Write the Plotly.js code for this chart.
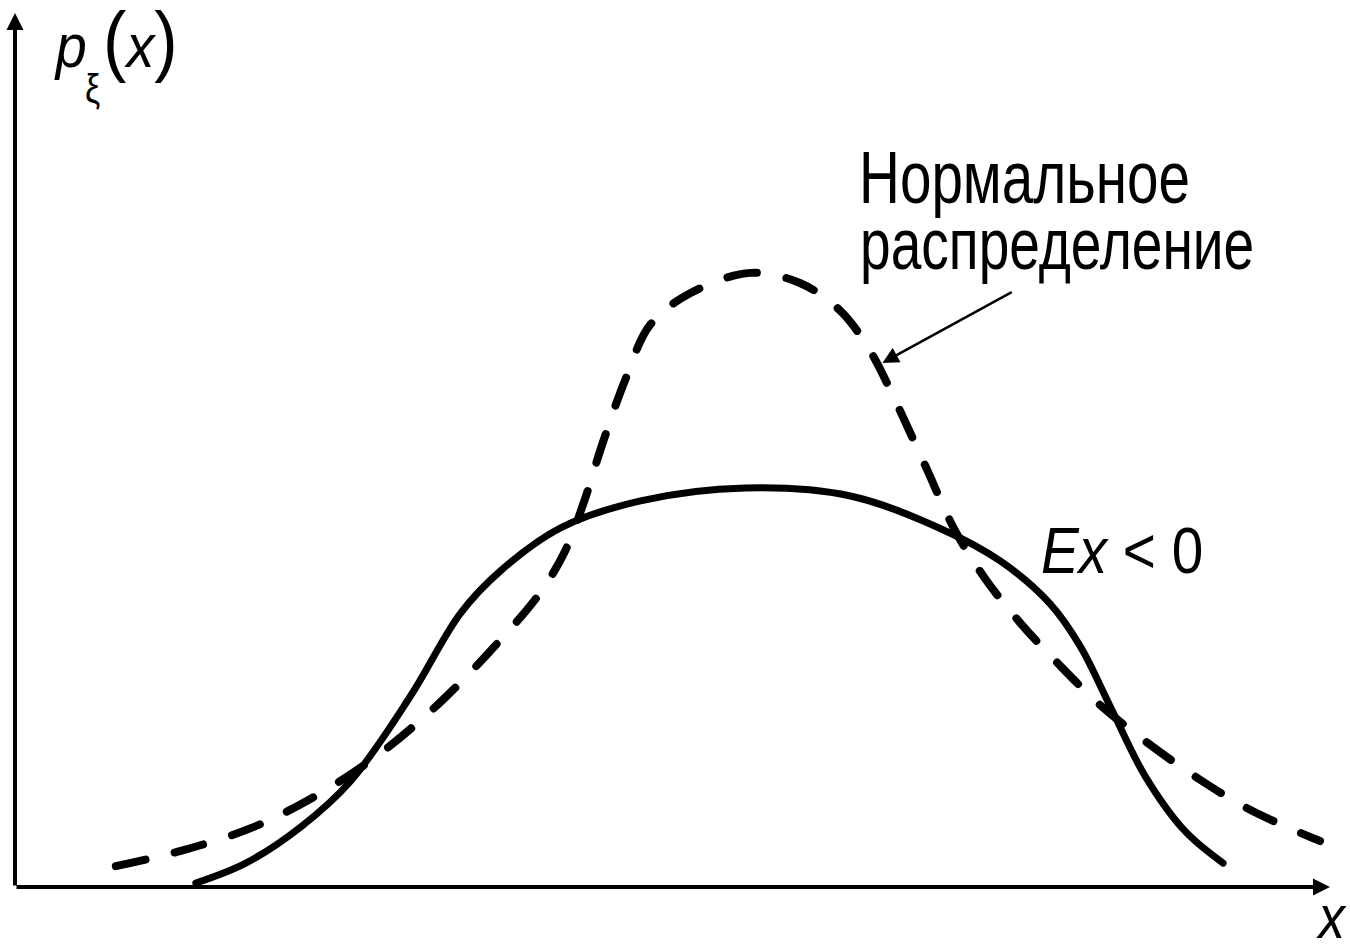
<!DOCTYPE html>
<html>
<head>
<meta charset="utf-8">
<script src="https://cdn.plot.ly/plotly-3.0.1.min.js"></script>
<style>
  html, body { margin: 0; padding: 0; background: #fff; }
  #chart { width: 1350px; height: 949px; }
  .scatterlayer path.js-line { stroke-linecap: round; stroke-linejoin: round; }
  /* narrow lettering for the labels */
  g.annotation text.annotation-text { transform-box: fill-box; transform-origin: 0 50%; }
  g.annotation[data-index="3"] text.annotation-text { transform: scaleX(0.9); }
  g.annotation[data-index="4"] text.annotation-text { transform: scaleX(0.85); }
  g.annotation[data-index="5"] text.annotation-text { transform: scaleX(0.9); }
  g.annotation[data-index="6"] text.annotation-text { transform: scaleX(0.765); }
  g.annotation[data-index="7"] text.annotation-text { transform: scaleX(0.765); }
  g.annotation[data-index="8"] text.annotation-text { transform: scaleX(0.885); }
  g.annotation[data-index="9"] text.annotation-text { transform: scaleX(0.85); }
</style>
</head>
<body>
<div id="chart"></div>
<script>
// Normal density (dashed) and a flat-topped density with negative excess kurtosis (solid)
const normalX = [0.767, 1.261, 1.793, 2.249, 2.728, 3.222, 3.678, 3.997, 4.187, 4.339, 4.453, 4.643, 4.833, 5.137, 5.593, 5.973, 6.277, 6.505, 6.695, 6.923, 7.150, 7.378, 7.644, 7.948, 8.252, 8.632, 9.012, 9.392, 9.924];
const normalY = [0.034, 0.059, 0.096, 0.144, 0.210, 0.299, 0.400, 0.481, 0.550, 0.636, 0.714, 0.829, 0.918, 0.969, 1.002, 0.985, 0.940, 0.874, 0.793, 0.687, 0.581, 0.503, 0.431, 0.361, 0.297, 0.232, 0.175, 0.126, 0.075];

const flatX = [1.375, 1.755, 2.173, 2.553, 3.009, 3.389, 3.693, 4.149, 4.757, 5.555, 6.353, 7.036, 7.492, 7.872, 8.100, 8.328, 8.594, 8.898, 9.187];
const flatY = [0.0065, 0.039, 0.098, 0.173, 0.312, 0.447, 0.516, 0.586, 0.630, 0.651, 0.638, 0.585, 0.532, 0.462, 0.393, 0.295, 0.181, 0.091, 0.039];

const xMax = 10;
const yMax = 1.426;
const textFont = "'Liberation Sans', Arial, sans-serif";

const traces = [
  {
    x: normalX, y: normalY, type: 'scatter', mode: 'lines',
    line: { color: '#000', width: 8, dash: '30px,30px', shape: 'spline', smoothing: 1 },
    hoverinfo: 'skip'
  },
  {
    x: flatX, y: flatY, type: 'scatter', mode: 'lines',
    line: { color: '#000', width: 7, shape: 'spline', smoothing: 1 },
    hoverinfo: 'skip'
  }
];

const annotations = [
  // x axis with arrow
  { x: xMax, y: 0, ax: 0, ay: 0, xref: 'x', yref: 'y', axref: 'x', ayref: 'y',
    text: '', showarrow: true, arrowhead: 2, arrowsize: 0.85, arrowwidth: 4, arrowcolor: '#000', standoff: 0 },
  // y axis with arrow
  { x: 0, y: yMax, ax: 0, ay: 0, xref: 'x', yref: 'y', axref: 'x', ayref: 'y',
    text: '', showarrow: true, arrowhead: 2, arrowsize: 0.85, arrowwidth: 4, arrowcolor: '#000', standoff: 0 },
  // pointer to the normal curve
  { x: 6.596, y: 0.855, ax: 7.591, ay: 0.972, xref: 'x', yref: 'y', axref: 'x', ayref: 'y',
    text: '', showarrow: true, arrowhead: 2, arrowsize: 1.3, arrowwidth: 2.5, arrowcolor: '#000', standoff: 0 },
  // y axis label p_ξ(x), set in three pieces
  { x: 0.028, y: 0.9628, xref: 'paper', yref: 'paper', xanchor: 'left', yanchor: 'middle',
    text: '<i>p</i>', showarrow: false, font: { family: textFont, size: 62, color: '#000' } },
  { x: 0.052, y: 0.913, xref: 'paper', yref: 'paper', xanchor: 'left', yanchor: 'middle',
    text: 'ξ', showarrow: false, font: { family: textFont, size: 40, color: '#000' } },
  { x: 0.0654, y: 0.969, xref: 'paper', yref: 'paper', xanchor: 'left', yanchor: 'middle',
    text: '<span style="font-size:78px">(</span><i>x</i><span style="font-size:78px">)</span>',
    showarrow: false, font: { family: textFont, size: 62, color: '#000' } },
  { x: 0.640, y: 0.812, xref: 'paper', yref: 'paper', xanchor: 'left', yanchor: 'middle',
    text: 'Нормальное', showarrow: false,
    font: { family: textFont, size: 74, color: '#000' } },
  { x: 0.641, y: 0.7357, xref: 'paper', yref: 'paper', xanchor: 'left', yanchor: 'middle',
    text: 'распределение', showarrow: false,
    font: { family: textFont, size: 72, color: '#000' } },
  { x: 0.779, y: 0.3844, xref: 'paper', yref: 'paper', xanchor: 'left', yanchor: 'middle',
    text: '<i>Ex</i> < 0', showarrow: false,
    font: { family: textFont, size: 64, color: '#000' } },
  { x: 0.988, y: -0.034, xref: 'paper', yref: 'paper', xanchor: 'left', yanchor: 'middle',
    text: '<i>x</i>', showarrow: false,
    font: { family: textFont, size: 62, color: '#000' } }
];

const layout = {
  width: 1350, height: 949,
  margin: { l: 15, r: 20, t: 13, b: 62 },
  paper_bgcolor: '#fff', plot_bgcolor: '#fff',
  showlegend: false,
  xaxis: { range: [0, xMax], visible: false, fixedrange: true },
  yaxis: { range: [0, yMax], visible: false, fixedrange: true },
  annotations: annotations
};

Plotly.newPlot('chart', traces, layout, { staticPlot: true, displayModeBar: false });
</script>
</body>
</html>
